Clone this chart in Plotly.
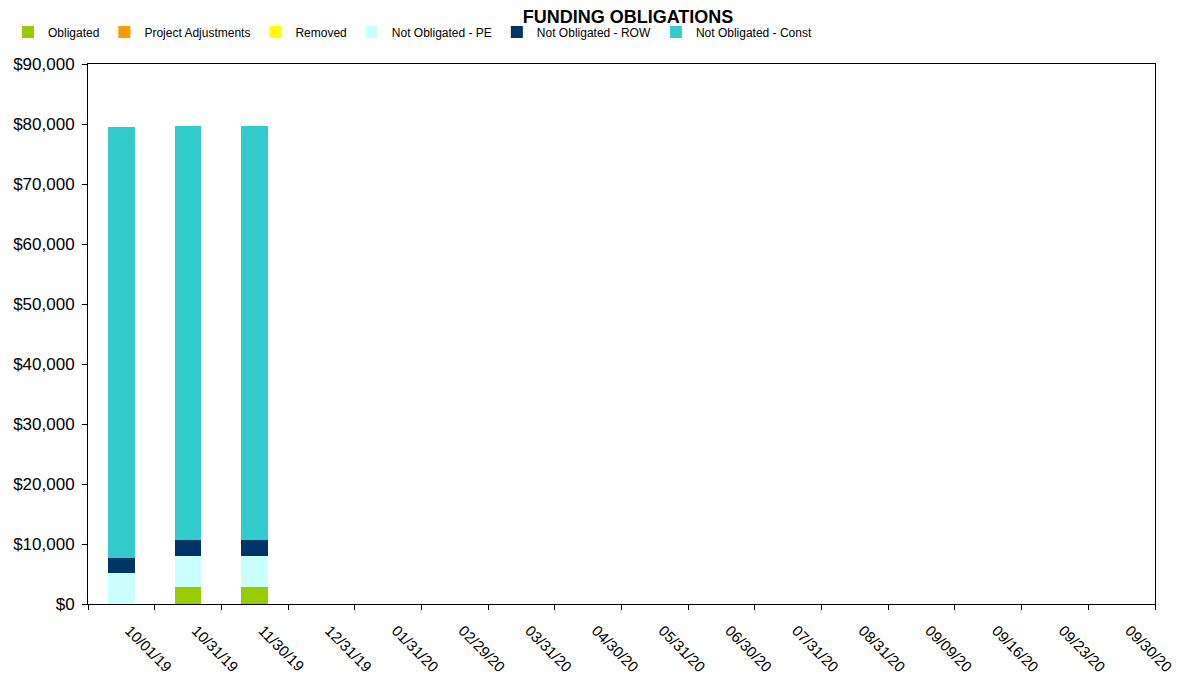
import plotly.graph_objects as go

categories = ["10/01/19", "10/31/19", "11/30/19", "12/31/19", "01/31/20", "02/29/20",
              "03/31/20", "04/30/20", "05/31/20", "06/30/20", "07/31/20", "08/31/20",
              "09/09/20", "09/16/20", "09/23/20", "09/30/20"]

obligated = [0, 2830, 2830] + [0] * 13
project_adjustments = [0] * 16
removed = [0] * 16
not_obligated_pe = [5170, 5170, 5170] + [0] * 13
not_obligated_row = [2500, 2670, 2670] + [0] * 13
not_obligated_const = [71800, 69000, 69000] + [0] * 13

series = [
    ("Obligated", obligated, "#99CC00"),
    ("Project Adjustments", project_adjustments, "#FF9900"),
    ("Removed", removed, "#FFFF00"),
    ("Not Obligated - PE", not_obligated_pe, "#CCFFFF"),
    ("Not Obligated - ROW", not_obligated_row, "#003366"),
    ("Not Obligated - Const", not_obligated_const, "#33CCCC"),
]

fig = go.Figure()
for name, vals, color in series:
    fig.add_trace(go.Bar(name=name, x=categories, y=vals, marker_color=color,
                         marker_line_width=0))

font_family = "Liberation Sans, Arial, sans-serif"
W, H = 1175, 675  # page body has an 8px margin
fig.update_layout(
    template="none",
    barmode="stack",
    bargap=0.6,
    width=W, height=H,
    margin=dict(l=80, r=28, t=56, b=79, pad=0),
    plot_bgcolor="white", paper_bgcolor="white",
    font=dict(family=font_family, size=13, color="black"),
    title=dict(text="<b>FUNDING OBLIGATIONS</b>", x=(628 - 8) / W, xanchor="center",
               y=1 - 9 / H, yanchor="middle", yref="container", xref="container",
               font=dict(size=18, family=font_family, color="black")),
    legend=dict(orientation="h", x=0, xanchor="left", xref="container",
                y=1 - 24 / H, yanchor="middle", yref="container",
                font=dict(size=12, family=font_family), traceorder="normal",
                itemwidth=30, bgcolor="rgba(0,0,0,0)", borderwidth=0),
    showlegend=True,
)
fig.update_xaxes(type="category", tickson="boundaries", ticks="outside", ticklen=5,
                 tickcolor="black", showline=True, linecolor="black", linewidth=1,
                 mirror=True, showgrid=False, tickangle=45, automargin=False,
                 ticklabelshift=8, ticklabelstandoff=11,
                 tickfont=dict(size=15))
fig.update_yaxes(range=[0, 90000], dtick=10000, tickprefix="$", tickformat=",.0f",
                 ticks="outside", ticklen=5, tickcolor="black", showline=True,
                 linecolor="black", linewidth=1, mirror=True, showgrid=False,
                 zeroline=False, automargin=False, ticklabelstandoff=4,
                 tickfont=dict(size=17))

fig.write_html("out.html")
